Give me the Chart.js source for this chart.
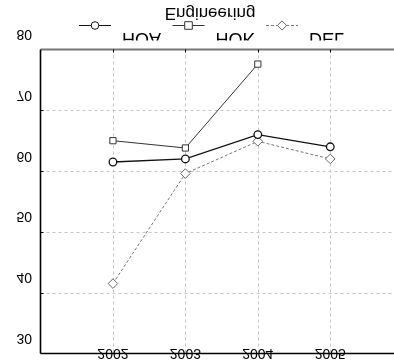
<!DOCTYPE html>
<html>
<head>
<meta charset="utf-8">
<title>Engineering</title>
<script src="https://cdn.jsdelivr.net/npm/chart.js@4.4.1/dist/chart.umd.min.js"></script>
<style>
  html, body { margin: 0; padding: 0; background: #fff; overflow: hidden; }
  #wrap { width: 420px; height: 364px; }
</style>
</head>
<body>
<div id="wrap"><canvas id="chart" width="420" height="364"></canvas></div>
<script>
/* Engineering — yearly scores, three series */

const YEARS = [2002, 2003, 2004, 2005];
const HOA = [61.5, 62, 66, 64];
const HOK = [65, 63.8, 77.6, null];
const DEL = [41.5, 59.6, 64.9, 62];
const Y_TICKS = [30, 40, 50, 60, 70, 80];
const X_TICKS = ['2002', '2003', '2004', '2005'];
const TITLE = 'Engineering';

const FONT = 'Arial, "Liberation Sans", sans-serif';

const toPoints = vals => YEARS.map((y, i) => ({ x: y, y: vals[i] }));

// text drawn mirrored top-to-bottom, baseline at y
function flipText(ctx, text, x, y, align, size) {
  ctx.save();
  ctx.translate(x, y);
  ctx.scale(1, -1);
  ctx.font = size + 'px ' + FONT;
  ctx.textAlign = align;
  ctx.textBaseline = 'alphabetic';
  ctx.fillStyle = '#000';
  ctx.fillText(text, 0, 0);
  ctx.restore();
}

function marker(ctx, style, x, y, color) {
  ctx.save();
  ctx.fillStyle = '#fff';
  ctx.strokeStyle = color;
  ctx.lineWidth = 1;
  ctx.setLineDash([]);
  ctx.beginPath();
  if (style === 'circle') {
    ctx.arc(x, y, 3.8, 0, Math.PI * 2);
  } else if (style === 'rect') {
    ctx.rect(x - 3.8, y - 3.8, 7.6, 7.6);
  } else {
    ctx.moveTo(x, y - 4.6); ctx.lineTo(x + 4.6, y);
    ctx.lineTo(x, y + 4.6); ctx.lineTo(x - 4.6, y);
    ctx.closePath();
  }
  ctx.fill();
  ctx.stroke();
  ctx.restore();
}

const frame = {
  id: 'frame',
  beforeDatasetsDraw(chart) {
    const { ctx, chartArea: a, scales: { x, y } } = chart;
    ctx.save();
    ctx.strokeStyle = '#c6c6c6';
    ctx.lineWidth = 1;
    ctx.setLineDash([3, 3]);
    Y_TICKS.slice(1, -1).forEach(v => {
      const py = Math.round(y.getPixelForValue(v)) + 0.5;
      ctx.beginPath(); ctx.moveTo(a.left, py); ctx.lineTo(a.right, py); ctx.stroke();
    });
    X_TICKS.forEach(t => {
      const px = Math.round(x.getPixelForValue(+t)) + 0.5;
      ctx.beginPath(); ctx.moveTo(px, a.top); ctx.lineTo(px, a.bottom); ctx.stroke();
    });
    ctx.restore();
  },
  afterDraw(chart) {
    const { ctx, chartArea: a, scales: { x, y } } = chart;

    // axis labels
    Y_TICKS.forEach(v => flipText(ctx, String(v), 32, y.getPixelForValue(v) - 19.5, 'right', 14));
    X_TICKS.forEach(t => flipText(ctx, t, x.getPixelForValue(+t), a.bottom - 4.5, 'center', 14));

    // axes and frame
    ctx.save();
    ctx.setLineDash([]);
    ctx.strokeStyle = '#777';
    ctx.lineWidth = 2;
    ctx.beginPath(); ctx.moveTo(a.left, a.top); ctx.lineTo(a.right, a.top); ctx.stroke();
    ctx.strokeStyle = '#000';
    ctx.lineWidth = 1.6;
    ctx.beginPath(); ctx.moveTo(a.left, a.top); ctx.lineTo(a.left, a.bottom); ctx.stroke();
    ctx.beginPath(); ctx.moveTo(a.left, a.bottom); ctx.lineTo(a.right, a.bottom); ctx.stroke();
    ctx.lineWidth = 1;
    Y_TICKS.slice(1, -1).forEach(v => {
      const py = Math.round(y.getPixelForValue(v)) + 0.5;
      ctx.beginPath(); ctx.moveTo(a.left, py); ctx.lineTo(a.left + 3, py); ctx.stroke();
    });
    X_TICKS.forEach(t => {
      const px = Math.round(x.getPixelForValue(+t)) + 0.5;
      ctx.beginPath(); ctx.moveTo(px, a.top); ctx.lineTo(px, a.top + 3); ctx.stroke();
    });
    ctx.restore();

    // title
    flipText(ctx, TITLE, 210, 7.5, 'center', 17);

    // legend
    chart.data.datasets.forEach((ds, i) => {
      const cx = 95 + i * 93.5, ly = 25.5;
      ctx.save();
      ctx.strokeStyle = ds.borderColor;
      ctx.lineWidth = 1;
      ctx.setLineDash(ds.borderDash || []);
      ctx.beginPath(); ctx.moveTo(cx - 16, ly); ctx.lineTo(cx + 16, ly); ctx.stroke();
      ctx.restore();
      marker(ctx, ds.pointStyle, cx, ly, ds.pointBorderColor);
      ctx.save();
      ctx.beginPath(); ctx.rect(0, 0, chart.width, 40.5); ctx.clip();
      flipText(ctx, ds.label, cx + 27, 33, 'left', 18);
      ctx.restore();
    });
  }
};

new Chart(document.getElementById('chart'), {
  type: 'line',
  data: {
    datasets: [
      { label: 'HOA', data: toPoints(HOA), borderColor: '#111', borderWidth: 1.3,
        pointStyle: 'circle', pointRadius: 3.8, pointBackgroundColor: '#fff', pointBorderColor: '#111' },
      { label: 'HOK', data: toPoints(HOK), borderColor: '#333', borderWidth: 1,
        pointStyle: 'rect', pointRadius: 4.4, pointBackgroundColor: '#fff', pointBorderColor: '#333' },
      { label: 'DEL', data: toPoints(DEL), borderColor: '#777', borderWidth: 1, borderDash: [3, 2],
        pointStyle: 'rectRot', pointRadius: 4.8, pointBackgroundColor: '#fff', pointBorderColor: '#666' }
    ]
  },
  options: {
    responsive: false,
    animation: false,
    spanGaps: false,
    layout: { padding: { left: 40.5, top: 49.5, right: 17.3, bottom: 10.5 } },
    plugins: { legend: { display: false }, tooltip: { enabled: false } },
    elements: { line: { tension: 0 }, point: { borderWidth: 1 } },
    scales: {
      x: { type: 'linear', min: 2001, max: 2006,
           ticks: { display: false }, grid: { display: false, drawTicks: false },
           border: { display: false }, afterFit: s => { s.height = 0; } },
      y: { min: 30, max: 80,
           ticks: { display: false, stepSize: 10 }, grid: { display: false, drawTicks: false },
           border: { display: false }, afterFit: s => { s.width = 0; } }
    }
  },
  plugins: [frame]
});
</script>
</body>
</html>
